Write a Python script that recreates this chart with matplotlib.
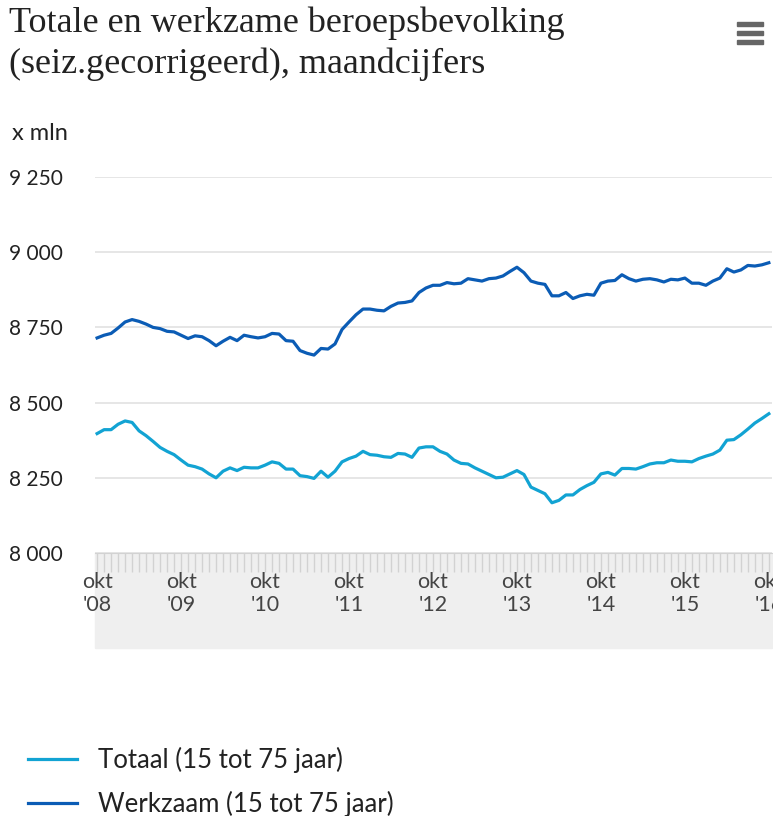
import numpy as np
import matplotlib.pyplot as plt
from matplotlib.patches import Rectangle

# maandcijfers okt 2008 t/m okt 2016 (x 1 000)
months = np.arange(97)

totaal = [
    8397, 8410, 8410, 8428, 8439, 8434, 8406, 8390, 8371, 8351, 8338, 8327,
    8309, 8292, 8287, 8279, 8263, 8250, 8272, 8283, 8274, 8285, 8283, 8283,
    8292, 8303, 8298, 8279, 8279, 8257, 8254, 8248, 8272, 8252, 8272, 8303,
    8314, 8322, 8338, 8327, 8325, 8320, 8318, 8331, 8329, 8318, 8349, 8353,
    8353, 8338, 8329, 8309, 8298, 8296, 8283, 8272, 8261, 8250, 8252, 8263,
    8274, 8261, 8219, 8208, 8197, 8167, 8175, 8193, 8193, 8211, 8224, 8235,
    8263, 8268, 8259, 8281, 8281, 8279, 8287, 8296, 8300, 8300, 8309, 8305,
    8305, 8303, 8314, 8322, 8329, 8342, 8375, 8377, 8393, 8412, 8432, 8447,
    8463,
]

werkzaam = [
    8715, 8724, 8730, 8748, 8768, 8776, 8770, 8761, 8750, 8746, 8737, 8735,
    8724, 8713, 8722, 8719, 8706, 8689, 8704, 8717, 8706, 8724, 8719, 8715,
    8719, 8730, 8728, 8706, 8704, 8673, 8664, 8658, 8680, 8678, 8695, 8743,
    8768, 8792, 8811, 8811, 8807, 8805, 8820, 8831, 8833, 8838, 8866, 8881,
    8890, 8890, 8899, 8895, 8897, 8912, 8908, 8904, 8912, 8914, 8921, 8936,
    8950, 8932, 8904, 8897, 8893, 8855, 8855, 8866, 8846, 8855, 8860, 8857,
    8897, 8904, 8906, 8925, 8912, 8904, 8910, 8912, 8908, 8901, 8910, 8908,
    8914, 8897, 8897, 8890, 8904, 8914, 8945, 8934, 8941, 8956, 8954, 8958,
    8965,
]

year_labels = ["okt\n'08", "okt\n'09", "okt\n'10", "okt\n'11", "okt\n'12",
               "okt\n'13", "okt\n'14", "okt\n'15", "okt\n'16"]
y_ticks = [8000, 8250, 8500, 8750, 9000, 9250]

c_totaal = '#12a3d3'
c_werkzaam = '#0b5cb5'
W, H = 773, 816

plt.rcParams['font.family'] = ['Lato', 'DejaVu Sans']

fig = plt.figure(figsize=(W / 100, H / 100), dpi=100)
ax = fig.add_axes([95 / W, 1 - 553 / H, (772 - 95) / W, (553 - 177) / H])

ax.plot(months, totaal, color=c_totaal, lw=2.3, label='Totaal (15 tot 75 jaar)', zorder=3)
ax.plot(months, werkzaam, color=c_werkzaam, lw=2.3, label='Werkzaam (15 tot 75 jaar)', zorder=3)

ax.set_xlim(-0.3, 96.45)
ax.set_ylim(8000, 9250)

ax.set_xticks(months[::12])
ax.set_xticklabels(year_labels)
ax.set_xticks(months, minor=True)
ax.tick_params(axis='x', which='both', length=13.5, width=1, color='#d2d2d2',
               labelsize=15.5, labelcolor='#444444', pad=0)

ax.set_yticks(y_ticks)
ax.set_yticklabels([f'{v:,}'.replace(',', ' ') for v in y_ticks])
ax.tick_params(axis='y', length=0, labelsize=15, labelcolor='#222222', pad=62)
for lab in ax.get_yticklabels():
    lab.set_ha('left')

ax.grid(axis='y', color='#e2e2e2', lw=1.2)
ax.set_axisbelow(True)
for s in ['top', 'right', 'left']:
    ax.spines[s].set_visible(False)
ax.spines['bottom'].set_color('#d2d2d2')

# grijze band onder de x-as
fig.add_artist(Rectangle((95 / W, 1 - 648 / H), (772 - 95) / W, (648 - 553) / H,
                         transform=fig.transFigure, color='#efefef', zorder=-1))

fig.text(9 / W, 1 - 7 / H, 'Totale en werkzame beroepsbevolking\n(seiz.gecorrigeerd), maandcijfers',
         va='top', ha='left', family='Liberation Serif', size=26, color='#222222', linespacing=1.28)
fig.text(12 / W, 1 - 134 / H, 'x mln', va='center', ha='left', size=17, color='#222222')

# menu-icoon
for yy in [22, 31, 40]:
    fig.add_artist(Rectangle((737 / W, 1 - (yy + 4) / H), 26 / W, 4 / H,
                             transform=fig.transFigure, color='#666666'))

fig.legend(loc='upper left', bbox_to_anchor=(5 / W, 1 - 724 / H), frameon=False,
           fontsize=18.5, handlelength=1.9, handletextpad=0.8, labelspacing=0.68,
           labelcolor='#222222')

fig.savefig('out.png', dpi=100)
